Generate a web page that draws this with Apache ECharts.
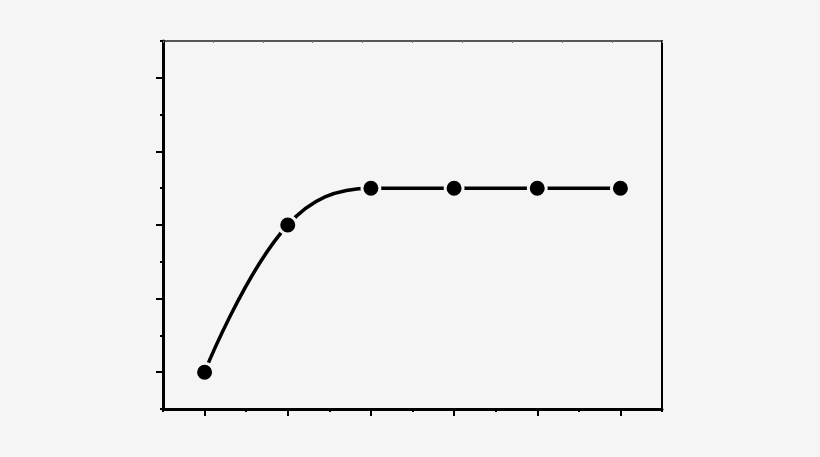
<!DOCTYPE html>
<html>
<head>
<meta charset="utf-8">
<script src="https://cdn.jsdelivr.net/npm/echarts@6/dist/echarts.min.js"></script>
<style>html,body{margin:0;padding:0;background:#f5f5f5;}#c{width:820px;height:457px;}</style>
</head>
<body>
<div id="c"></div>
<script>
var xValues = [1, 3, 5, 7, 9, 11];
var yValues = [1, 5, 6, 6, 6, 6];

var data = xValues.map(function (x, i) { return [x, yValues[i]]; });
var chart = echarts.init(document.getElementById('c'));
chart.setOption({
  backgroundColor: '#f5f5f5',
  animation: false,
  grid: { left: 163, right: 158, top: 41, bottom: 48 },
  xAxis: [
    {
      type: 'value', position: 'bottom', min: 0, max: 12, interval: 2,
      axisLine: { show: true, onZero: false, lineStyle: { color: '#000', width: 3 } },
      axisTick: { show: true, length: 3, lineStyle: { color: '#000', width: 2 } },
      minorTick: { show: true, splitNumber: 2, length: 7, lineStyle: { color: '#000', width: 2 } },
      axisLabel: { show: false }, splitLine: { show: false }
    },
    {
      type: 'value', position: 'top', min: 0, max: 10, interval: 1,
      axisLine: { show: true, onZero: false, lineStyle: { color: '#222', width: 1.5 } },
      axisTick: { show: true, inside: true, length: 2, lineStyle: { color: '#777', width: 1 } },
      axisLabel: { show: false }, splitLine: { show: false }
    }
  ],
  yAxis: [
    {
      type: 'value', position: 'left', min: 0, max: 10, interval: 2,
      axisLine: { show: true, onZero: false, lineStyle: { color: '#000', width: 3 } },
      axisTick: { show: true, length: 3, lineStyle: { color: '#000', width: 2 } },
      minorTick: { show: true, splitNumber: 2, length: 7, lineStyle: { color: '#000', width: 2 } },
      axisLabel: { show: false }, splitLine: { show: false }
    },
    {
      type: 'value', position: 'right', min: 0, max: 10, interval: 2,
      axisLine: { show: true, onZero: false, lineStyle: { color: '#000', width: 2 } },
      axisTick: { show: false }, axisLabel: { show: false }, splitLine: { show: false }
    }
  ],
  series: [{
    type: 'line',
    xAxisIndex: 0, yAxisIndex: 0,
    data: data,
    smooth: 0.4,
    symbol: 'circle',
    symbolSize: 18,
    lineStyle: { color: '#000', width: 3.5 },
    itemStyle: { color: '#000', borderColor: '#f5f5f5', borderWidth: 3 }
  }]
});
</script>
</body>
</html>
